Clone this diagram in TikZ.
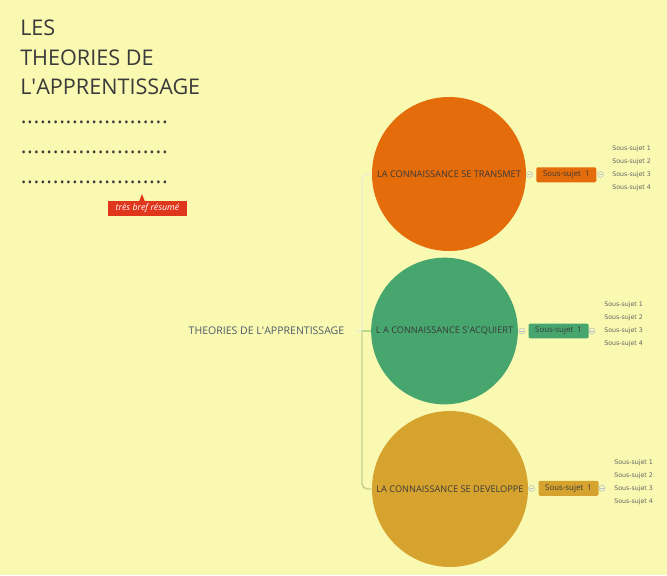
\documentclass[tikz,border=0pt]{standalone}
\usepackage{fontspec}
\setmainfont{Open Sans}
\newfontfamily\subfont{DejaVu Sans}
\usetikzlibrary{positioning}
\definecolor{bgyellow}{HTML}{F9F9B1}
\definecolor{ink}{HTML}{3A3A3A}
\definecolor{rootink}{HTML}{4E5C6A}
\definecolor{subink}{HTML}{666666}
\definecolor{transorange}{HTML}{E46C0A}
\definecolor{acqgreen}{HTML}{46A66D}
\definecolor{devgold}{HTML}{D6A32F}
\definecolor{resred}{HTML}{E0361C}
\definecolor{paleline}{HTML}{EDEDCF}
\definecolor{greenline}{HTML}{B6D98A}
\definecolor{oliveline}{HTML}{C2D08E}
\definecolor{markgray}{HTML}{B4C0CC}
\newcommand{\dotrow}{\foreach \d in {1,...,23}{\makebox[4.82pt][l]{.}}}

\begin{document}
\begin{tikzpicture}[x=0.75pt, y=-0.75pt, every node/.style={inner sep=0pt, text=ink}, titleline/.style={anchor=base west, font=\fontsize{16.2}{22}\selectfont}, bubble/.style={circle, text=ink, font=\fontsize{6.9}{8}\selectfont}, subbox/.style={rectangle, rounded corners=1pt, minimum width=45pt, minimum height=11.2pt, font=\fontsize{5.9}{7}\selectfont}, subitem/.style={anchor=west, text=subink, font=\subfont\fontsize{4.7}{6}\selectfont}, marker/.style={circle, draw=markgray, fill=bgyellow, line width=0.4pt, minimum size=4.5pt, path picture={\draw[markgray, line width=0.4pt] ([xshift=-1.2pt]path picture bounding box.center) -- ([xshift=1.2pt]path picture bounding box.center);}}, branch/.style={line width=1.1pt, rounded corners=4pt}]
        \fill[bgyellow] (0,0) rectangle (667,575);
        \useasboundingbox (0,0) rectangle (667,575);

        \node[titleline] (les) at (20,35.7) {LES};
        \node[titleline] (theories) at (20,65) {THEORIES DE};
        \node[titleline] (appr) at (20,94.3) {L\textquotesingle APPRENTISSAGE};
        \node[titleline] (dotsa) at (20.5,123.5) {\dotrow};
        \node[titleline] (dotsb) at (20.5,153.5) {\dotrow};
        \node[titleline] (dotsc) at (20.5,183.5) {\dotrow};

        \node[fill=resred, text=white, minimum width=59pt, minimum height=11pt, font=\fontsize{6.6}{7}\selectfont\itshape] (resume) at (147.5,208.5) {très bref résumé};
        \fill[resred] ([xshift=-2pt]resume.north -| 142,0) -- (142,194) -- ([xshift=2pt]resume.north -| 142,0) -- cycle;

        \node[text=rootink, font=\fontsize{7.9}{9}\selectfont] (root) at (266.5,331) {THEORIES DE L\textquotesingle APPRENTISSAGE};
        \coordinate (fork) at (362,331);

        \node[bubble, fill=transorange, minimum size=115.5pt] (transmet) at (449,174) {LA CONNAISSANCE SE TRANSMET};
        \node[bubble, fill=acqgreen, minimum size=110pt] (acquiert) at (444.5,331) {L A CONNAISSANCE S\textquotesingle ACQUIERT};
        \node[bubble, fill=devgold, minimum size=117pt] (developpe) at (450,489) {LA CONNAISSANCE SE DEVELOPPE};

        \draw[paleline, line width=1.1pt, shorten <=9pt] (root.east) -- (fork);
        \draw[branch, paleline] (fork) |- (transmet.west);
        \draw[branch, greenline] (fork) -- (acquiert.west);
        \draw[branch, oliveline] (fork) |- (developpe.west);

        \node[subbox, fill=transorange] (boxt) at (566.3,174.8) {Sous-sujet\ \ 1};
        \node[subbox, fill=acqgreen] (boxa) at (558.5,331) {Sous-sujet\ \ 1};
        \node[subbox, fill=devgold] (boxd) at (568.5,488.3) {Sous-sujet\ \ 1};

        \node[marker] (mtl) at (529.5,174.5) {};
        \node[marker] (mtr) at (600.5,174.5) {};
        \node[marker] (mal) at (522,331) {};
        \node[marker] (mar) at (592,331) {};
        \node[marker] (mdl) at (531.5,488.3) {};
        \node[marker] (mdr) at (602,488.3) {};

        \foreach \i in {1,...,4} {
            \node[subitem] (subt\i) at (612,136+13*\i) {Sous-sujet \i};
            \node[subitem] (suba\i) at (604,292+13*\i) {Sous-sujet \i};
            \node[subitem] (subd\i) at (614,449.5+13*\i) {Sous-sujet \i};
        }
    \end{tikzpicture}
\end{document}
